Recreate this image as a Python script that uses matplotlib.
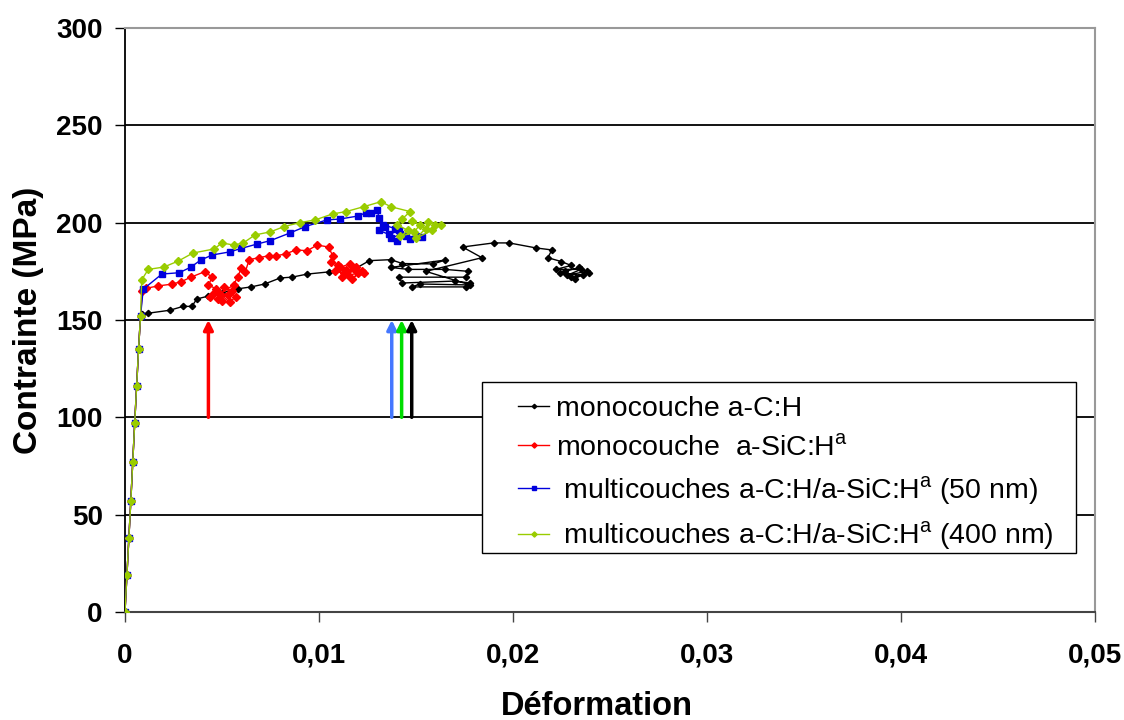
import matplotlib
matplotlib.use('Agg')
import matplotlib.pyplot as plt
from matplotlib.patches import Rectangle

plt.rcParams['font.family'] = ['Liberation Sans', 'DejaVu Sans']
plt.rcParams['mathtext.fontset'] = 'custom'
plt.rcParams['mathtext.rm'] = 'Liberation Sans'

# elastic part shared by all samples
elastic_x = [0, 0.0001, 0.0002, 0.0003, 0.0004, 0.0005, 0.0006, 0.0007, 0.0008]
elastic_y = [0, 19, 38, 57, 77, 97, 116, 135, 152]

# monocouche a-C:H
black_x = [0.0009, 0.0012, 0.0023, 0.0030, 0.00345, 0.0037, 0.0043, 0.0050, 0.0058, 0.0065,
           0.0072, 0.0080, 0.0086, 0.0094, 0.0105, 0.0118, 0.0126, 0.0137, 0.0143, 0.0159,
           0.0165, 0.0137, 0.0146, 0.0165, 0.0177, 0.0176, 0.0141, 0.0143, 0.0170, 0.0178,
           0.0176, 0.0148, 0.0152, 0.0178, 0.0155, 0.0184, 0.0174, 0.0190, 0.0198, 0.0212,
           0.0220, 0.0218, 0.0225, 0.0230, 0.0222, 0.0235, 0.0228, 0.0238, 0.0232, 0.0224,
           0.0236, 0.0230, 0.0239, 0.0234, 0.0227]
black_y = [153, 153.5, 155, 157, 157, 160.8, 162.3, 164, 166, 167,
           168.5, 171.6, 172, 173.6, 174.7, 176, 180.5, 181, 179, 178.8,
           180.8, 177, 176, 176, 175, 172, 172, 169, 170, 169,
           167, 167, 168.5, 168, 175, 182, 187.5, 189.6, 189.6, 187,
           186, 182, 180, 178, 176, 176, 173, 175, 171, 174,
           173, 172, 174, 177, 175]

# monocouche a-SiC:H
red_x = [0.0009, 0.0011, 0.0017, 0.0024, 0.0029, 0.0034, 0.0041, 0.0045, 0.0043, 0.0047,
         0.0044, 0.0050, 0.0046, 0.0053, 0.0048, 0.0055, 0.0051, 0.0057, 0.0054, 0.0049,
         0.0056, 0.0058, 0.0060, 0.0062, 0.0064, 0.0069, 0.0074, 0.0078, 0.0083, 0.0088,
         0.0094, 0.0099, 0.0105, 0.0107, 0.0106, 0.0110, 0.0108, 0.0113, 0.0111, 0.0116,
         0.0112, 0.0118, 0.0115, 0.0120, 0.0117, 0.0122, 0.0119, 0.0114, 0.0123]
red_y = [165, 166.3, 167.5, 168.4, 169.7, 172, 174.8, 172, 168, 166,
         162, 160, 164, 163, 161, 165, 167, 162, 159, 163.5,
         168, 172, 176.7, 174.7, 181, 182, 183, 183, 184, 186,
         185.6, 188.5, 187.5, 183, 180, 178, 175, 174, 177, 179,
         172, 176, 173, 174, 171, 175, 177, 175.5, 174]

# multicouches 50 nm
blue_x = [0.00094, 0.0019, 0.0028, 0.0034, 0.0039, 0.0045, 0.0054, 0.0060, 0.0068, 0.0075,
          0.0085, 0.0093, 0.0104, 0.0111, 0.0120, 0.0124, 0.0127, 0.0130, 0.0131, 0.0134,
          0.0131, 0.0136, 0.0133, 0.0139, 0.0137, 0.0142, 0.0140, 0.0145, 0.0141, 0.0147,
          0.0150, 0.0153]
blue_y = [165.8, 173.6, 174.3, 177.2, 180.8, 183.4, 185, 186.8, 189, 190.8,
          194.7, 198, 201.4, 201.9, 203.4, 205, 205, 206.5, 202.4, 198,
          196, 194, 199, 197, 192, 194, 190.5, 193, 196, 191.5,
          193, 192.5]

# multicouches 400 nm
green_x = [0.00086, 0.0012, 0.0020, 0.00275, 0.0035, 0.0046, 0.0050, 0.0056, 0.0061, 0.0067,
           0.0075, 0.0082, 0.0090, 0.0098, 0.0107, 0.0114, 0.0123, 0.0132, 0.0137, 0.0147,
           0.0143, 0.0140, 0.0146, 0.0142, 0.0149, 0.0152, 0.0148, 0.0155, 0.0150, 0.0158,
           0.0160, 0.0156, 0.0163]
green_y = [170.6, 176, 177.2, 180.3, 184.4, 186.5, 189.6, 188.5, 189.6, 193.7,
           195.3, 198, 200, 201.4, 204.5, 205.7, 208.2, 210.8, 208.2, 205.7,
           202, 199, 196, 193, 195, 199, 201, 197, 192, 196,
           199, 200.5, 198.8]

labels = ['monocouche a-C:H',
          r'monocouche  a-SiC:H$^{\mathrm{a}}$',
          r' multicouches a-C:H/a-SiC:H$^{\mathrm{a}}$ (50 nm)',
          r' multicouches a-C:H/a-SiC:H$^{\mathrm{a}}$ (400 nm)']

# arrows (strain at failure), from 100 to 150 MPa
arrow_x = [0.0043, 0.01375, 0.01426, 0.01478]
arrow_colors = ['#ff0000', '#4477ff', '#00dd00', '#000000']
arrow_bottom = 100
arrow_top = 150

x_ticks = [0, 0.01, 0.02, 0.03, 0.04, 0.05]
x_tick_labels = ['0', '0,01', '0,02', '0,03', '0,04', '0,05']
y_ticks = [0, 50, 100, 150, 200, 250, 300]

fig = plt.figure(figsize=(11.24, 7.2), dpi=100)
ax = fig.add_axes([0.1112, 0.15, 0.863, 0.8111])

series = [
    (black_x, black_y, '#000000', 'D', 3.2),
    (red_x, red_y, '#ff0000', 'D', 3.8),
    (blue_x, blue_y, '#0000dd', 's', 3.8),
    (green_x, green_y, '#99cc00', 'D', 3.8),
]
for (sx, sy, col, mk, ms), lab in zip(series, labels):
    ax.plot(elastic_x + sx, elastic_y + sy, color=col, lw=1.0, marker=mk, ms=ms,
            label=lab, zorder=3)

for xa, col in zip(arrow_x, arrow_colors):
    ax.annotate('', xy=(xa, arrow_top), xytext=(xa, arrow_bottom),
                arrowprops=dict(arrowstyle='-|>', color=col, lw=2.5,
                                mutation_scale=14, shrinkA=0, shrinkB=0),
                zorder=4)

ax.set_xlim(0, 0.05)
ax.set_ylim(0, 300)
ax.set_xticks(x_ticks)
ax.set_xticklabels(x_tick_labels)
ax.set_yticks(y_ticks)
for y in y_ticks[1:-1]:
    ax.axhline(y, color='black', lw=1.3, zorder=1)

ax.spines['left'].set_color('black')
ax.spines['left'].set_linewidth(1.3)
ax.spines['bottom'].set_color('#444444')
ax.spines['bottom'].set_linewidth(1.5)
for s in ['top', 'right']:
    ax.spines[s].set_color('#999999')
    ax.spines[s].set_linewidth(1.5)

ax.tick_params(axis='both', direction='out', length=7, width=1, labelsize=20)
ax.tick_params(axis='x', pad=15, colors='#444444', labelcolor='black')
ax.tick_params(axis='y', pad=9)
for t in ax.get_xticklabels() + ax.get_yticklabels():
    t.set_fontweight('bold')

ax.set_xlabel('Déformation', fontsize=23.5, fontweight='bold')
ax.xaxis.set_label_coords(0.4866, -0.135)
ax.set_ylabel('Contrainte (MPa)', fontsize=24, fontweight='bold')
ax.yaxis.set_label_coords(-0.083, 0.5)

# legend box drawn separately, entries placed inside it
ax.add_patch(Rectangle((0.368, 0.101), 0.612, 0.292, transform=ax.transAxes,
                       facecolor='white', edgecolor='black', lw=1.0, zorder=5))
leg = ax.legend(loc='upper left', bbox_to_anchor=(0.405, 0.37),
                borderaxespad=0, fontsize=20.5, frameon=False,
                handlelength=1.1, handletextpad=0.25, labelspacing=0.45,
                borderpad=0, markerscale=0.7)
leg.set_zorder(6)

fig.savefig('out.png', dpi=100)
